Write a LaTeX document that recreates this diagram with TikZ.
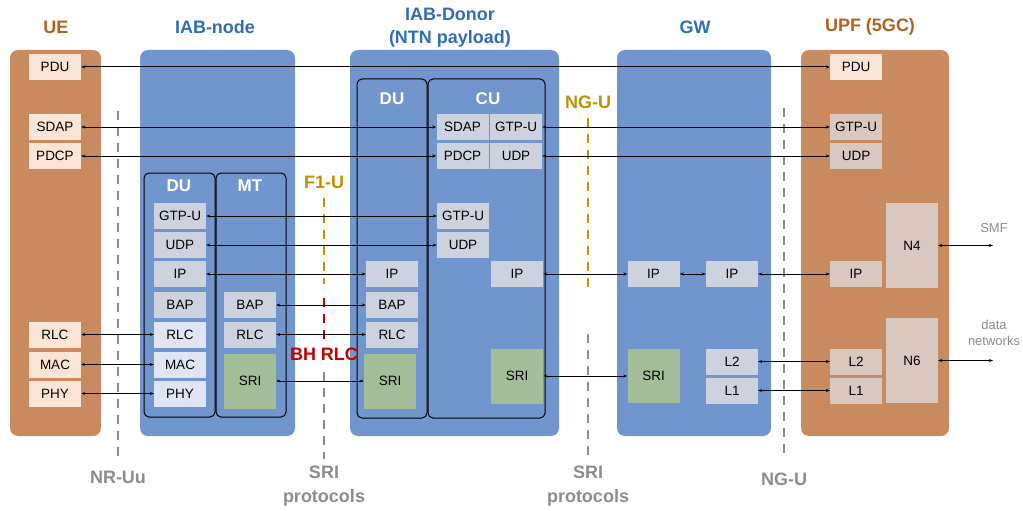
\documentclass[tikz,border=0pt]{standalone}
\usepackage{fontspec}
\setmainfont{Liberation Sans}
\usetikzlibrary{arrows.meta}
\definecolor{uebrown}{HTML}{C98A5F}
\definecolor{iabblue}{HTML}{7195CD}
\definecolor{ttlblue}{HTML}{2F6DB5}
\definecolor{ttlbrown}{HTML}{B4601F}
\definecolor{pinkbox}{HTML}{FCE4D6}
\definecolor{graybox}{HTML}{CDD2DF}
\definecolor{lightbox}{HTML}{DFE5F5}
\definecolor{srigreen}{HTML}{A3BD99}
\definecolor{upfbox}{HTML}{D8C8C0}
\definecolor{dashgray}{HTML}{8C8C8C}
\definecolor{gold}{HTML}{BF9000}
\definecolor{bhred}{HTML}{C00000}
\tikzset{
  bigbox/.style={rounded corners=8pt},
  framebox/.style={draw=black, line width=1pt, rounded corners=5pt},
  lay/.style={rectangle, inner sep=0pt, minimum width=52pt, minimum height=26pt,
    font=\fontsize{13.5}{16}\selectfont, text=black},
  ttl/.style={font=\bfseries\fontsize{18}{21}\selectfont, align=center},
  sub/.style={font=\bfseries\fontsize{17}{20}\selectfont, text=white},
  conn/.style={line width=1pt, {Stealth[length=4pt,width=3pt]}-{Stealth[length=4pt,width=3pt]}},
  ifdash/.style={line width=2.2pt, dash pattern=on 8.5pt off 7.5pt},
  small/.style={font=\fontsize{13}{16}\selectfont, text=dashgray, align=center}
}
\begin{document}
\begin{tikzpicture}[x=1pt, y=-1pt]
\useasboundingbox (0,0) rectangle (1023,511);

% big boxes
\fill[bigbox, uebrown] (10,50) rectangle (101,436);
\fill[bigbox, iabblue] (140,50) rectangle (295,436);
\fill[bigbox, iabblue] (350,50) rectangle (559,436);
\fill[bigbox, iabblue] (617,50) rectangle (771,436);
\fill[bigbox, uebrown] (801,50) rectangle (949,436);

% titles
\node[ttl, text=ttlbrown] (tue) at (56,27) {UE};
\node[ttl, text=ttlblue] (tiab) at (215,27) {IAB-node};
\node[ttl, text=ttlblue, font=\bfseries\fontsize{18}{23}\selectfont] (tdon) at (450,28) {IAB-Donor\\(NTN payload)};
\node[ttl, text=ttlblue] (tgw) at (695,27) {GW};
\node[ttl, text=ttlbrown] (tupf) at (870,27) {UPF (5GC)};

% inner frames
\draw[framebox] (144,173) rectangle (215,417);
\draw[framebox] (216,173) rectangle (286,417);
\draw[framebox] (357,79) rectangle (427,418);
\draw[framebox] (428,79) rectangle (545,418);
\node[sub] (lduiab) at (179,186) {DU};
\node[sub] (lmt) at (250,186) {MT};
\node[sub] (lddon) at (392,99) {DU};
\node[sub] (lcu) at (488,99) {CU};

% UE
\node[lay, fill=pinkbox] (uepdu) at (55,67) {PDU};
\node[lay, fill=pinkbox] (uesdap) at (55,127) {SDAP};
\node[lay, fill=pinkbox] (uepdcp) at (55,156) {PDCP};
\node[lay, fill=pinkbox] (uerlc) at (55,334.5) {RLC};
\node[lay, fill=pinkbox] (uemac) at (55,364.5) {MAC};
\node[lay, fill=pinkbox] (uephy) at (55,393.5) {PHY};

% IAB-node DU
\node[lay, fill=graybox] (igtp) at (180,216) {GTP-U};
\node[lay, fill=graybox] (iudp) at (180,245) {UDP};
\node[lay, fill=graybox] (iip) at (180,274) {IP};
\node[lay, fill=graybox] (ibap) at (180,305) {BAP};
\node[lay, fill=lightbox] (irlc) at (180,334.5) {RLC};
\node[lay, fill=lightbox] (imac) at (180,364.5) {MAC};
\node[lay, fill=lightbox] (iphy) at (180,393.5) {PHY};
% MT
\node[lay, fill=graybox] (mbap) at (250,305) {BAP};
\node[lay, fill=graybox] (mrlc) at (250,334.5) {RLC};
\node[lay, fill=srigreen, minimum height=55pt] (msri) at (250,381) {SRI};

% Donor DU
\node[lay, fill=graybox] (dip) at (392,274) {IP};
\node[lay, fill=graybox] (dbap) at (392,305) {BAP};
\node[lay, fill=graybox] (drlc) at (392,334.5) {RLC};
\node[lay, fill=srigreen, minimum height=55pt] (dsri) at (390,381) {SRI};

% CU
\node[lay, fill=graybox] (csdap) at (462.5,127) {SDAP};
\node[lay, fill=graybox] (cgtp) at (516,127) {GTP-U};
\node[lay, fill=graybox] (cpdcp) at (462.5,156) {PDCP};
\node[lay, fill=graybox] (cudp) at (516,156) {UDP};
\node[lay, fill=graybox] (cgtp2) at (463,216) {GTP-U};
\node[lay, fill=graybox] (cudp2) at (463,245) {UDP};
\node[lay, fill=graybox] (cip) at (517,274) {IP};
\node[lay, fill=srigreen, minimum height=55pt] (csri) at (517,376) {SRI};

% GW
\node[lay, fill=graybox] (gip1) at (653.5,274) {IP};
\node[lay, fill=graybox] (gip2) at (732,274) {IP};
\node[lay, fill=srigreen, minimum height=54pt] (gsri) at (653.5,376) {SRI};
\node[lay, fill=graybox] (gl2) at (732,361.5) {L2};
\node[lay, fill=graybox] (gl1) at (732,390.5) {L1};

% UPF
\node[lay, fill=pinkbox] (updu) at (856,67) {PDU};
\node[lay, fill=upfbox] (ugtp) at (856,127) {GTP-U};
\node[lay, fill=upfbox] (uudp) at (856,156) {UDP};
\node[lay, fill=upfbox] (uip) at (856,274) {IP};
\node[lay, fill=upfbox] (ul2) at (856,361.5) {L2};
\node[lay, fill=upfbox] (ul1) at (856,390.5) {L1};
\node[lay, fill=upfbox, minimum height=85pt] (un4) at (912,245.5) {N4};
\node[lay, fill=upfbox, minimum height=85pt] (un6) at (912,360.5) {N6};

% external
\node[small] (smf) at (994,228) {SMF};
\coordinate (smfend) at (993,245.5);
\node[small, font=\fontsize{13}{16}\selectfont] (dn) at (994,333) {data\\networks};
\coordinate (dnend) at (993,360.5);

% interface dashed lines
\coordinate (nr1) at (118,111); \coordinate (nr2) at (118,457);
\draw[ifdash, dashgray] (nr1) -- (nr2);
\node[ttl, text=dashgray] (lnr) at (118,477) {NR-Uu};

\coordinate (f1a) at (324,198); \coordinate (f1b) at (324,284);
\draw[ifdash, gold] (f1a) -- (f1b);
\node[ttl, text=gold] (lf1) at (324,182) {F1-U};
\coordinate (bh1) at (324,298); \coordinate (bh2) at (324,340);
\draw[ifdash, bhred] (bh1) -- (bh2);
\node[ttl, text=bhred] (lbh) at (324,354) {BH RLC};
\coordinate (s1a) at (324,372); \coordinate (s1b) at (324,459);
\draw[ifdash, dashgray] (s1a) -- (s1b);
\node[ttl, text=dashgray, font=\bfseries\fontsize{18}{24}\selectfont] (ls1) at (324,486) {SRI\\protocols};

\coordinate (ng1a) at (588,118); \coordinate (ng1b) at (588,287);
\draw[ifdash, gold] (ng1a) -- (ng1b);
\node[ttl, text=gold] (lng1) at (588,102) {NG-U};
\coordinate (s2a) at (588,334); \coordinate (s2b) at (588,455);
\draw[ifdash, dashgray] (s2a) -- (s2b);
\node[ttl, text=dashgray, font=\bfseries\fontsize{18}{24}\selectfont] (ls2) at (588,486) {SRI\\protocols};

\coordinate (ng2a) at (784,108); \coordinate (ng2b) at (784,454);
\draw[ifdash, dashgray] (ng2a) -- (ng2b);
\node[ttl, text=dashgray] (lng2) at (784,479) {NG-U};

% connectors
\draw[conn] (uepdu.east) -- (updu.west);
\draw[conn] (uesdap.east) -- (csdap.west);
\draw[conn] (uepdcp.east) -- (cpdcp.west);
\draw[conn] (cgtp.east) -- (ugtp.west);
\draw[conn] (cudp.east) -- (uudp.west);
\draw[conn] (igtp.east) -- (cgtp2.west);
\draw[conn] (iudp.east) -- (cudp2.west);
\draw[conn] (iip.east) -- (dip.west);
\draw[conn] (mbap.east) -- (dbap.west);
\draw[conn] (mrlc.east) -- (drlc.west);
\draw[conn] (msri.east) -- (dsri.west);
\draw[conn] (uerlc.east) -- (irlc.west);
\draw[conn] (uemac.east) -- (imac.west);
\draw[conn] (uephy.east) -- (iphy.west);
\draw[conn] (cip.east) -- (gip1.west);
\draw[conn] (gip1.east) -- (gip2.west);
\draw[conn] (gip2.east) -- (uip.west);
\draw[conn] (csri.east) -- (gsri.west);
\draw[conn] (gl2.east) -- (ul2.west);
\draw[conn] (gl1.east) -- (ul1.west);
\draw[conn] (un4.east) -- (smfend);
\draw[conn] (un6.east) -- (dnend);
\end{tikzpicture}
\end{document}
